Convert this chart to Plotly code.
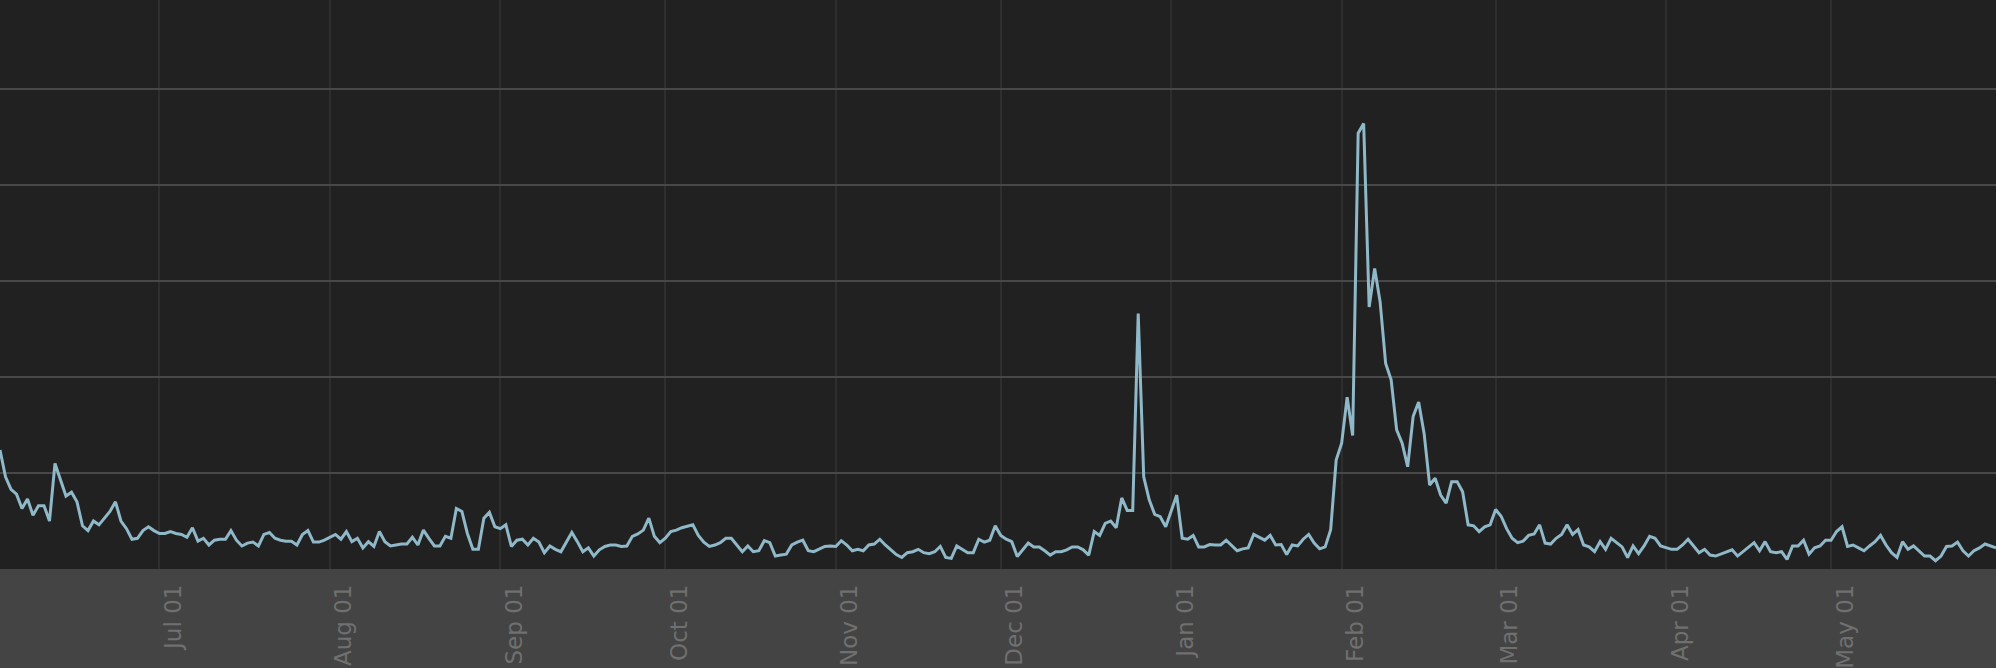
import pandas as pd
import plotly.graph_objects as go

start_date = "2022-06-02"
values = [
    12.4, 9.6, 8.3, 7.8, 6.3, 7.3, 5.6, 6.6, 6.6, 5.0,
    11.0, 9.3, 7.6, 8.0, 7.0, 4.5, 4.0, 5.0, 4.6, 5.3,
    6.0, 7.0, 5.0, 4.2, 3.1, 3.2, 4.0, 4.4, 4.0, 3.7,
    3.7, 3.9, 3.7, 3.6, 3.3, 4.3, 2.9, 3.2, 2.5, 3.0,
    3.1, 3.1, 4.0, 3.0, 2.4, 2.7, 2.8, 2.4, 3.6, 3.8,
    3.2, 3.0, 2.9, 2.9, 2.5, 3.6, 4.0, 2.8, 2.8, 3.0,
    3.3, 3.6, 3.1, 3.9, 2.85, 3.2, 2.2, 2.85, 2.35, 3.9,
    2.85, 2.4, 2.5, 2.6, 2.6, 3.3, 2.5, 4.05, 3.2, 2.4,
    2.4, 3.4, 3.2, 6.3, 6.0, 3.7, 2.05, 2.05, 5.3, 5.9,
    4.4, 4.2, 4.6, 2.35, 3.0, 3.1, 2.5, 3.2, 2.8, 1.7,
    2.4, 2.05, 1.8, 2.85, 3.8, 2.85, 1.8, 2.2, 1.35, 2.0,
    2.35, 2.5, 2.5, 2.35, 2.4, 3.4, 3.65, 4.05, 5.3, 3.4,
    2.75, 3.2, 3.9, 4.05, 4.3, 4.45, 4.6, 3.5, 2.8, 2.35,
    2.5, 2.75, 3.2, 3.2, 2.5, 1.8, 2.4, 1.8, 1.9, 2.95,
    2.75, 1.35, 1.45, 1.55, 2.5, 2.8, 3.0, 1.9, 1.8, 2.05,
    2.35, 2.4, 2.35, 2.95, 2.5, 1.9, 2.05, 1.9, 2.5, 2.6,
    3.1, 2.5, 2.0, 1.5, 1.2, 1.7, 1.8, 2.05, 1.7, 1.6,
    1.8, 2.35, 1.2, 1.1, 2.4, 2.05, 1.7, 1.7, 3.1, 2.8,
    3.0, 4.5, 3.5, 3.1, 2.85, 1.3, 2.0, 2.7, 2.3, 2.3,
    1.9, 1.45, 1.8, 1.8, 2.0, 2.3, 2.3, 2.0, 1.45, 3.9,
    3.5, 4.75, 5.0, 4.3, 7.4, 6.1, 6.1, 26.6, 9.6, 7.2,
    5.7, 5.45, 4.4, 6.0, 7.7, 3.2, 3.1, 3.5, 2.3, 2.3,
    2.55, 2.5, 2.5, 3.0, 2.5, 1.9, 2.1, 2.2, 3.6, 3.3,
    3.0, 3.5, 2.5, 2.55, 1.5, 2.5, 2.4, 3.1, 3.6, 2.7,
    2.1, 2.3, 4.1, 11.35, 13.1, 17.9, 13.9, 45.4, 46.4, 27.3,
    31.3, 27.8, 21.4, 19.7, 14.5, 13.1, 10.65, 15.9, 17.4, 14.1,
    8.75, 9.45, 7.7, 6.85, 9.1, 9.1, 8.05, 4.6, 4.5, 3.9,
    4.4, 4.6, 6.2, 5.5, 4.2, 3.2, 2.75, 2.9, 3.5, 3.65,
    4.6, 2.7, 2.6, 3.2, 3.6, 4.6, 3.6, 4.1, 2.5, 2.3,
    1.8, 2.85, 2.05, 3.2, 2.75, 2.3, 1.2, 2.4, 1.6, 2.4,
    3.4, 3.2, 2.4, 2.2, 2.05, 2.05, 2.5, 3.1, 2.35, 1.7,
    2.05, 1.45, 1.35, 1.55, 1.8, 2.0, 1.35, 1.8, 2.3, 2.75,
    1.9, 2.85, 1.8, 1.7, 1.8, 1.0, 2.4, 2.4, 3.0, 1.55,
    2.2, 2.4, 3.0, 3.0, 3.9, 4.4, 2.35, 2.5, 2.2, 1.9,
    2.4, 2.85, 3.5, 2.5, 1.7, 1.2, 2.85, 2.05, 2.4, 1.9,
    1.35, 1.35, 0.86, 1.35, 2.35, 2.4, 2.8, 1.9, 1.35, 1.9,
    2.2, 2.6, 2.4, 2.2,
]
dates = pd.date_range(start=start_date, periods=len(values), freq="D")

x_range = [dates[0], dates[-1]]
y_range = [0, 59.27]

fig = go.Figure()
fig.add_trace(go.Scatter(
    x=dates, y=values, mode="lines",
    line=dict(color="#8fb8c8", width=3),
    hoverinfo="skip", showlegend=False,
))

fig.update_layout(
    width=1996, height=668,
    margin=dict(l=0, r=0, t=0, b=99, pad=0),
    paper_bgcolor="#444444",
    plot_bgcolor="#212121",
    showlegend=False,
    font=dict(family="DejaVu Sans"),
)
fig.update_xaxes(
    type="date", range=x_range,
    tickformat="%b %d", dtick="M1", tick0="2022-07-01",
    tickangle=-90,
    tickfont=dict(size=23, color="#707070", family="DejaVu Sans"),
    ticklabelshift=14, ticklabelstandoff=10,
    showgrid=True, gridcolor="#2e2e2e", gridwidth=1.5,
    ticks="", zeroline=False, showline=False,
)
fig.update_yaxes(
    range=y_range, dtick=10,
    showticklabels=False,
    showgrid=True, gridcolor="#484848", gridwidth=2,
    ticks="", zeroline=False, showline=False,
)

fig.write_html(
    "out.html",
    config={"displayModeBar": False},
    post_script="document.body.style.margin='0';document.body.style.overflow='hidden';",
)
